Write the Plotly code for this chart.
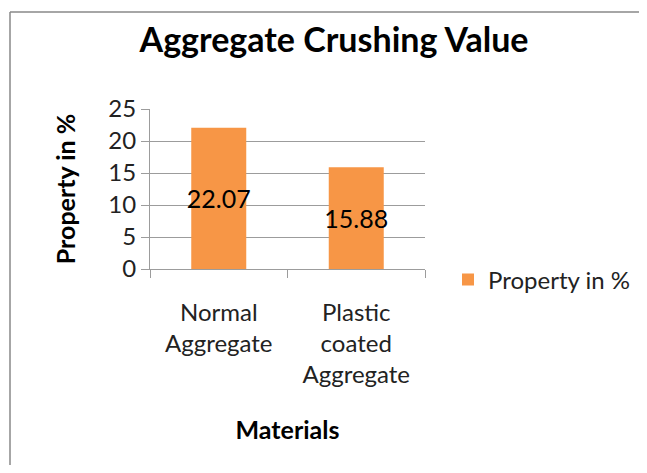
import plotly.graph_objects as go

# dados
materiais = ["Normal<br>Aggregate", "Plastic<br>coated<br>Aggregate"]
valores = [22.07, 15.88]
rotulos = ["22.07", "15.88"]
serie = "Property in %"

_LARANJA = "#F79646"
_GRADE = "#9C9C9C"
_MOLDURA = "#888888"
_FONTE = "Lato, 'Open Sans', sans-serif"

# a página tem 8px de margem no body; a figura cabe na janela sem rolagem
W, H = 631, 457
L, R, T, B = 142, W - 417, 101, H - 261
pw = W - L - R
ph = H - T - B

fig = go.Figure(go.Bar(
    x=materiais,
    y=valores,
    name=serie,
    text=rotulos,
    textposition="inside",
    insidetextanchor="middle",
    constraintext="none",
    textangle=0,
    textfont=dict(size=25, color="#000000", family=_FONTE),
    marker=dict(color=_LARANJA, line=dict(width=0)),
    showlegend=True,
))

# moldura cinza do gráfico (só topo e lado esquerdo aparecem)
x_esq = (2 - L) / pw
y_topo = (H - B - 4) / ph
fig.add_shape(type="line", xref="paper", yref="paper",
              x0=x_esq, x1=(W - L) / pw, y0=y_topo, y1=y_topo,
              line=dict(color=_MOLDURA, width=1.5))
fig.add_shape(type="line", xref="paper", yref="paper",
              x0=x_esq, x1=x_esq, y0=y_topo, y1=(H - B - H) / ph,
              line=dict(color=_MOLDURA, width=1.5))

fig.update_layout(
    width=W, height=H,
    paper_bgcolor="white", plot_bgcolor="white",
    font=dict(family=_FONTE, color="#000000", size=24),
    margin=dict(l=L, r=R, t=T, b=B, autoexpand=False),
    title=dict(
        text="<b>Aggregate Crushing Value</b>",
        x=326 / W, xanchor="center", y=1 - 32 / H, yanchor="middle",
        font=dict(size=34, family=_FONTE, color="#000000"),
    ),
    bargap=0.6,
    xaxis=dict(
        showline=True, linecolor=_GRADE, linewidth=1,
        ticks="outside", tickson="boundaries", ticklen=8, tickcolor=_GRADE,
        ticklabelstandoff=22,
        tickfont=dict(size=24, color="#222222"),
        title=dict(text="<b>Materials</b>", font=dict(size=25), standoff=34),
        showgrid=False,
    ),
    yaxis=dict(
        range=[0, 25], dtick=5,
        showline=True, linecolor=_GRADE, linewidth=1,
        ticks="outside", ticklen=8, tickcolor=_GRADE,
        showgrid=True, gridcolor=_GRADE, gridwidth=1,
        zeroline=False,
        tickfont=dict(size=24, color="#222222"),
        title=dict(text="<b>Property in %</b>", font=dict(size=25), standoff=25),
    ),
    legend=dict(
        x=(440 - L) / pw, xanchor="left",
        y=(H - B - 272) / ph, yanchor="middle",
        font=dict(size=24, color="#222222"),
        bgcolor="rgba(0,0,0,0)", itemwidth=30,
    ),
)

fig.write_html("out.html")
